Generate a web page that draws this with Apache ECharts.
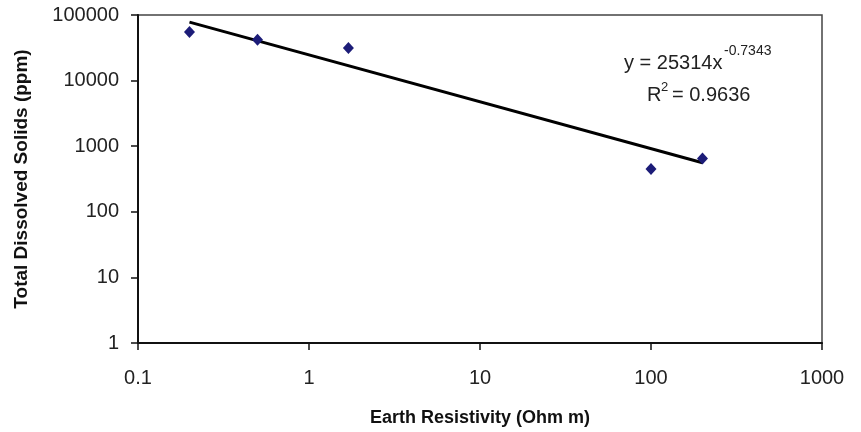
<!DOCTYPE html>
<html>
<head>
<meta charset="utf-8">
<script src="https://cdn.jsdelivr.net/npm/echarts@6/dist/echarts.min.js"></script>
<style>
  html, body { margin: 0; padding: 0; background: #fff; }
  #chart { width: 861px; height: 432px; }
</style>
</head>
<body>
<div id="chart"></div>
<script>
// measured points (Earth resistivity vs TDS)
const resistivity = [0.2, 0.5, 1.7, 100, 200];
const tds = [55000, 42000, 31500, 450, 650];

// power trendline ends
const trendX = [0.2, 200];
const trendY = [78000, 560];

const xTicks = [0.1, 1, 10, 100, 1000];
const yTicks = [1, 10, 100, 1000, 10000, 100000];

const font = '"Liberation Sans", Arial, sans-serif';

let chart = echarts.init(document.getElementById('chart'));

chart.setOption({
  animation: false,
  grid: {
    left: 138,
    right: 39,
    top: 15,
    bottom: 89,
    show: true,
    borderColor: '#444',
    borderWidth: 1.5
  },
  xAxis: {
    type: 'log',
    logBase: 10,
    min: xTicks[0],
    max: xTicks[xTicks.length - 1],
    name: 'Earth Resistivity (Ohm m)',
    nameLocation: 'middle',
    nameGap: 66,
    nameTextStyle: { fontFamily: font, fontSize: 18, fontWeight: 'bold', color: '#111' },
    axisLine: { lineStyle: { color: '#111', width: 2 } },
    axisTick: { length: 7, lineStyle: { color: '#111', width: 1.5 } },
    splitLine: { show: false },
    minorTick: { show: false },
    axisLabel: {
      fontFamily: font,
      fontSize: 20,
      color: '#222',
      margin: 25,
      formatter: v => String(v)
    }
  },
  yAxis: {
    type: 'log',
    logBase: 10,
    min: yTicks[0],
    max: yTicks[yTicks.length - 1],
    name: 'Total Dissolved Solids (ppm)',
    nameLocation: 'middle',
    nameRotate: 90,
    nameGap: 107,
    nameTextStyle: { fontFamily: font, fontSize: 19, fontWeight: 'bold', color: '#111' },
    axisLine: { lineStyle: { color: '#111', width: 2 } },
    axisTick: { length: 7, lineStyle: { color: '#111', width: 1.5 } },
    splitLine: { show: false },
    axisLabel: {
      fontFamily: font,
      fontSize: 20,
      color: '#222',
      margin: 19,
      formatter: v => String(v)
    }
  },
  graphic: [
    {
      type: 'text',
      left: 624,
      top: 53,
      style: { text: 'y = 25314x', font: '20px ' + font, fill: '#222' }
    },
    {
      type: 'text',
      left: 724,
      top: 44,
      style: { text: '-0.7343', font: '14px ' + font, fill: '#222' }
    },
    {
      type: 'text',
      left: 647,
      top: 85,
      style: { text: 'R', font: '20px ' + font, fill: '#222' }
    },
    {
      type: 'text',
      left: 661,
      top: 81,
      style: { text: '2', font: '13px ' + font, fill: '#222' }
    },
    {
      type: 'text',
      left: 672,
      top: 85,
      style: { text: '= 0.9636', font: '20px ' + font, fill: '#222' }
    }
  ],
  series: [
    {
      type: 'line',
      data: trendX.map((x, i) => [x, trendY[i]]),
      symbol: 'none',
      lineStyle: { color: '#000', width: 3 },
      z: 2
    },
    {
      type: 'scatter',
      data: resistivity.map((x, i) => [x, tds[i]]),
      symbol: 'diamond',
      symbolSize: [11, 12],
      itemStyle: { color: '#1c1c78', opacity: 1 },
      z: 3
    }
  ]
});
</script>
</body>
</html>
